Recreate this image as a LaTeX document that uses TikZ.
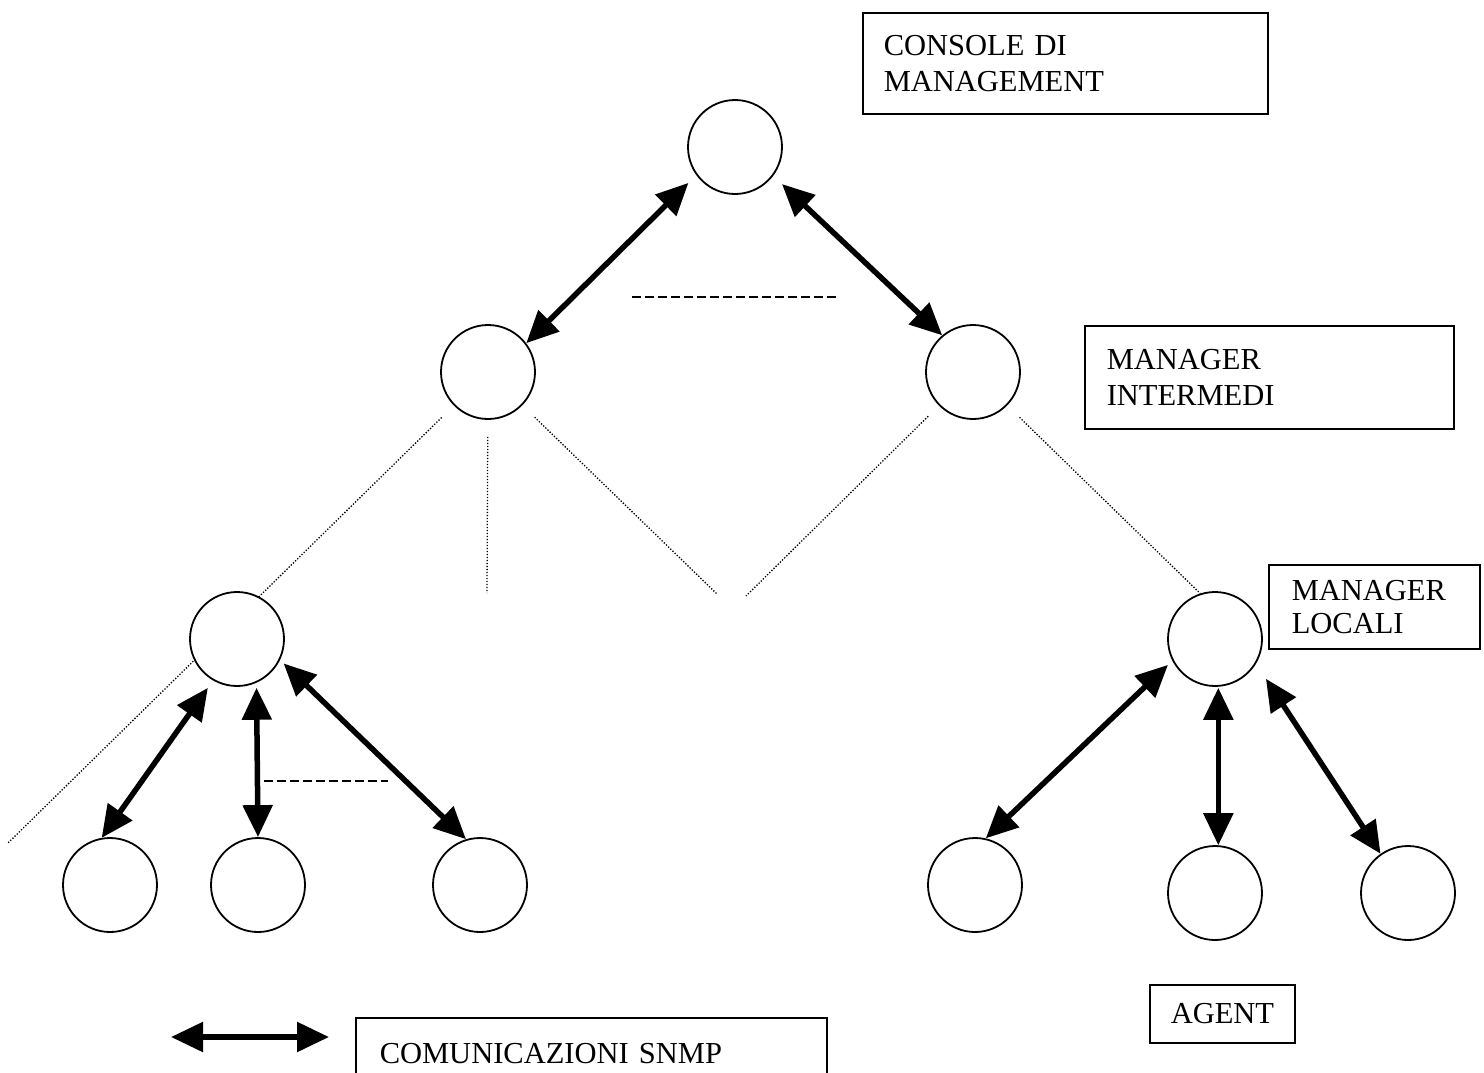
\documentclass[tikz,border=0pt]{standalone}
\usepackage{fontspec}
\setmainfont{Liberation Serif}
\usetikzlibrary{arrows.meta}
\usetikzlibrary{backgrounds}
\tikzset{
    nodec/.style = {circle, line width=1.8pt, draw=black, fill=white, minimum size=94pt, inner sep=0pt},
    boxl/.style = {rectangle, line width=1.5pt, draw=black, anchor=north west, align=left, inner ysep=0pt, font=\fontsize{30.5}{36}\selectfont},
    edges/.style = {{Triangle[length=32pt,width=29pt]}-{Triangle[length=32pt,width=29pt]}, line width=5.5pt, black},
    edgedash/.style = {-, line width=2pt, black, dash pattern=on 9pt off 4pt}, % more nodes
    edgedot/.style = {-, line width=1.3pt, black, dash pattern=on 1.3pt off 1.7pt}, % hierarchy
}

\begin{document}
\begin{tikzpicture}[x=1pt,y=-1pt]
\clip (0,0) rectangle (1484,1072);
%
\node[nodec] at (735,147) (cons) {};
\node[nodec] at (488,372) (mi1) {};
\node[nodec] at (973,372) (mi2) {};
\node[nodec] at (237,639) (ml1) {};
\node[nodec] at (1215,639) (ml2) {};
\node[nodec] at (110,885) (ag1) {};
\node[nodec] at (258,885) (ag2) {};
\node[nodec] at (480,885) (ag3) {};
\node[nodec] at (975,885) (ag4) {};
\node[nodec] at (1215,893) (ag5) {};
\node[nodec] at (1408,893) (ag6) {};
%
\node[boxl, inner xsep=21pt, text width=363pt, minimum height=101pt] at (862,12) (bcons) {CONSOLE DI\\MANAGEMENT};
\node[boxl, inner xsep=22pt, text width=325pt, minimum height=103pt] at (1084,325) (binter) {MANAGER\\INTERMEDI};
\node[boxl, inner xsep=23pt, text width=165pt, minimum height=84pt, font=\fontsize{30.5}{33}\selectfont] at (1268,564) (blocal) {MANAGER\\LOCALI};
\node[boxl, inner xsep=21pt, minimum height=58pt] at (1149,984) (bagent) {AGENT};
\node[boxl, inner xsep=24pt, text width=423pt, minimum height=72pt] at (355,1017) (bsnmp) {COMUNICAZIONI SNMP};
%
\coordinate (d1) at (8,843);
\coordinate (d2) at (487,593);
\coordinate (d3) at (717,594);
\coordinate (d4) at (746,596);
\coordinate (h1) at (632,297);
\coordinate (h2) at (837,297);
\coordinate (h3) at (264,781);
\coordinate (h4) at (388,781);
\coordinate (l1) at (171,1037);
\coordinate (l2) at (329,1037);
%
\begin{scope}[on background layer]
\draw[edgedot, shorten <=17pt] (mi1) -- (d1);
\end{scope}
\draw[edgedot, shorten <=17pt] (mi1) -- (d2);
\draw[edgedot, shorten <=17pt] (mi1) -- (d3);
\draw[edgedot, shorten <=15pt] (mi2) -- (d4);
\draw[edgedot, shorten <=17pt] (mi2) -- (ml2.108);
%
\draw[edgedash] (h1) -- (h2);
\draw[edgedash] (h3) -- (h4);
%
\draw[edges, shorten <=11pt] (cons.216) -- (mi1.37);
\draw[edges, shorten <=12pt] (cons.323) -- (mi2.130);
\draw[edges, shorten <=9pt] (ml1.240) -- (ag1.100);
\draw[edges, shorten <=5pt] (ml1.294) -- (ag2.90);
\draw[edges, shorten <=5pt] (ml1.334) -- (ag3.107);
\draw[edges, shorten <=6pt] (ml2.207) -- (ag4.77);
\draw[edges, shorten <=1pt] (ml2.274) -- (ag5.86);
\draw[edges, shorten <=18pt] (ml2.329) -- (ag6.125);
\draw[edges] (l1) -- (l2);
\end{tikzpicture}
\end{document}
